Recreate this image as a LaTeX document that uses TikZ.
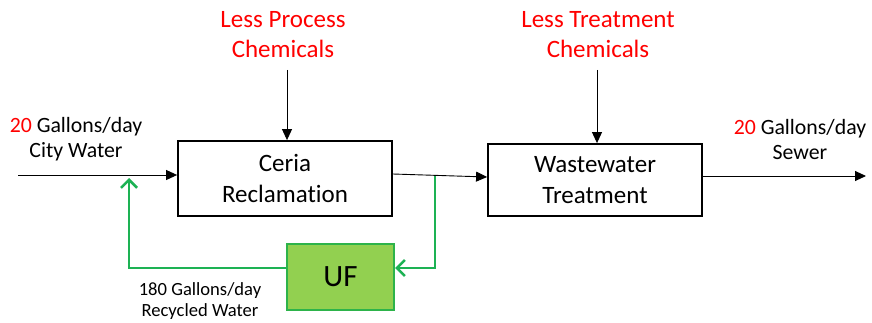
\documentclass[tikz,border=0pt]{standalone}
\usepackage{fontspec}
\setmainfont{Carlito}[Ligatures=NoCommon]
\usetikzlibrary{arrows.meta}
\definecolor{cred}{HTML}{FF0000}
\definecolor{cgreen}{HTML}{1DB254}
\definecolor{ufill}{HTML}{92D050}
\definecolor{uborder}{HTML}{2DB34A}
\tikzset{
  procbox/.style={draw=black, line width=1.8pt, minimum width=214pt, align=center,
    font=\fontsize{25}{31}\selectfont},
  ufbox/.style={draw=uborder, fill=ufill, line width=2pt, minimum width=107pt, minimum height=66pt,
    font=\fontsize{31}{36}\selectfont},
  redlbl/.style={text=cred, align=center, font=\fontsize{25}{30}\selectfont},
  flowlbl/.style={align=center, font=\fontsize{21.8}{25}\selectfont},
  smalllbl/.style={align=center, font=\fontsize{18.6}{21}\selectfont},
  flow/.style={draw=black, line width=0.9pt, -{Triangle[length=11pt,width=10pt]}},
  recyc/.style={draw=cgreen, line width=2.6pt, -{Straight Barb[length=8pt,width=16pt,line width=2.6pt]}}
}
\begin{document}
\begin{tikzpicture}[x=1pt,y=1pt]
\useasboundingbox (0,0) rectangle (872,322);
\node[procbox, minimum height=75pt] (ceria) at (285,143.5) {Ceria\\Reclamation};
\node[procbox, minimum height=72pt] (ww) at (595,142) {Wastewater\\Treatment};
\node[ufbox] (uf) at (340.5,45) {UF};
\node[redlbl] (lpc) at (283,287) {Less Process\\Chemicals};
\node[redlbl] (ltc) at (598,287) {Less Treatment\\Chemicals};
\node[flowlbl] (inlbl) at (76,182.5) {\textcolor{cred}{20} Gallons/day\\City Water};
\node[flowlbl] (outlbl) at (800,182.5) {\textcolor{cred}{20} Gallons/day\\Sewer};
\node[smalllbl] (reclbl) at (200,20.5) {180 Gallons/day\\Recycled Water};
\coordinate (inStart) at (18,147);
\coordinate (outEnd) at (866,146);
\coordinate (lpcStart) at (287,252);
\coordinate (ltcStart) at (597,252);
\coordinate (junc) at (435,145.6);
\coordinate (jdown) at (435,54);
\coordinate (rleft) at (129,54);
\coordinate (rtop) at (129,144);
% black flows
\draw[flow] (inStart) -- (inStart -| ceria.west);
\draw[flow] ([yshift=4.5pt]ceria.east) -- ([yshift=3pt]ww.west);
\draw[flow] ([yshift=4pt]ww.east) -- (outEnd);
\draw[flow] (lpcStart) -- (lpcStart |- ceria.north);
\draw[flow] (ltcStart) -- (ltcStart |- ww.north);
% green recycle
\draw[recyc] (junc) -- (jdown) -- (jdown -| uf.east);
\draw[recyc] (rleft -| uf.west) -- (rleft) -- (rtop);
\end{tikzpicture}
\end{document}
